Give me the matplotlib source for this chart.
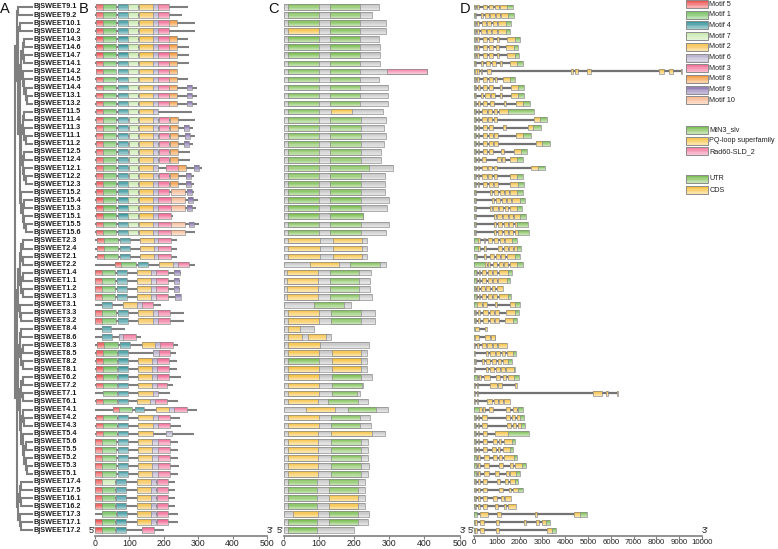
import numpy as np
import matplotlib
matplotlib.use('Agg')
import matplotlib.pyplot as plt
import matplotlib.colors as mcolors
import matplotlib.transforms as mtransforms
from matplotlib.patches import Rectangle

plt.rcParams['font.family'] = ['Liberation Sans', 'DejaVu Sans']

# ---------------- data ----------------
gene_ids = ['9.1', '9.2', '10.1', '10.2', '14.3', '14.6', '14.7', '14.1', '14.2', '14.5',
            '14.4', '13.1', '13.2', '11.5', '11.4', '11.3', '11.1', '11.2', '12.5', '12.4',
            '12.1', '12.2', '12.3', '15.2', '15.4', '15.3', '15.1', '15.5', '15.6', '2.3',
            '2.4', '2.1', '2.2', '1.4', '1.1', '1.2', '1.3', '3.1', '3.3', '3.2',
            '8.4', '8.6', '8.3', '8.5', '8.2', '8.1', '6.2', '7.2', '7.1', '6.1',
            '4.1', '4.2', '4.3', '5.4', '5.6', '5.5', '5.2', '5.3', '5.1', '17.4',
            '17.5', '16.1', '16.2', '17.3', '17.1', '17.2']

# protein length (aa)
prot_len = [271, 252, 291, 291, 271, 274, 274, 274, 408, 271,
            296, 296, 296, 282, 291, 286, 291, 286, 277, 277,
            310, 288, 288, 289, 300, 295, 226, 301, 292, 237,
            237, 237, 291, 249, 247, 247, 250, 192, 260, 260,
            86, 134, 242, 236, 238, 238, 250, 227, 218, 240,
            297, 246, 249, 287, 241, 241, 241, 243, 241, 232,
            232, 232, 232, 242, 241, 200]
no_backbone = ['14.2']

# tree topology (panel A)
tree = [
    [['9.1', '9.2'],
     [['10.1', '10.2'],
      [[[['14.3', '14.6'], ['14.7', '14.1']], ['14.2', ['14.5', ['14.4', ['13.1', '13.2']]]]],
       [[['11.5', '11.4'], ['11.3', ['11.1', '11.2']]], [['12.5', '12.4'], ['12.1', ['12.2', '12.3']]]],
       ['15.2', [['15.4', '15.3'], ['15.1', ['15.5', '15.6']]]]]]],
    [[[[['2.3', '2.4'], ['2.1', '2.2']], [['1.4', '1.1'], ['1.2', '1.3']]], ['3.1', ['3.3', '3.2']]],
     [[['8.4', '8.6'], [['8.3', '8.5'], ['8.2', '8.1']]],
      [[['6.2', '7.2'], ['7.1', '6.1']],
       [['4.1', ['4.2', '4.3']], ['5.4', [['5.6', '5.5'], ['5.2', ['5.3', '5.1']]]]]]],
     [[['17.4', '17.5'], ['16.1', '16.2']], ['17.3', ['17.1', '17.2']]]]]

# panel B motifs: (motif, start, end) in aa
motifs = [
    [(5, 3, 22), (1, 22, 62), (4, 68, 97), (7, 97, 126), (2, 129, 168), (6, 168, 184), (3, 184, 216)],
    [(5, 3, 22), (1, 22, 62), (4, 68, 97), (7, 97, 126), (2, 129, 168), (6, 168, 184), (3, 184, 216)],
    [(5, 3, 22), (1, 22, 62), (4, 68, 97), (7, 97, 126), (2, 129, 168), (6, 168, 184), (3, 184, 216), (8, 216, 239)],
    [(5, 3, 22), (1, 22, 62), (4, 68, 97), (7, 97, 126), (2, 129, 168), (6, 168, 184), (3, 184, 216)],
    [(5, 3, 22), (1, 22, 62), (4, 68, 97), (7, 97, 126), (2, 129, 168), (6, 168, 184), (3, 184, 216), (8, 216, 239)],
    [(5, 3, 22), (1, 22, 62), (4, 68, 97), (7, 97, 126), (2, 129, 168), (6, 168, 184), (3, 184, 216), (8, 216, 239)],
    [(5, 3, 22), (1, 22, 62), (4, 68, 97), (7, 97, 126), (2, 129, 168), (6, 168, 184), (3, 184, 216), (8, 216, 239)],
    [(5, 3, 22), (1, 22, 62), (4, 68, 97), (7, 97, 126), (2, 129, 168), (6, 168, 184), (3, 184, 216), (8, 216, 239)],
    [(5, 3, 22), (1, 22, 62), (4, 68, 97), (7, 97, 126), (2, 129, 168), (6, 168, 184), (3, 184, 216), (8, 216, 239)],
    [(5, 3, 22), (1, 22, 62), (4, 68, 97), (7, 97, 126), (2, 129, 168), (6, 168, 184), (3, 184, 216), (8, 216, 239)],
    [(5, 3, 22), (1, 22, 62), (4, 68, 97), (7, 97, 126), (2, 129, 168), (6, 168, 184), (3, 184, 216), (8, 216, 239), (9, 268, 282)],
    [(5, 3, 22), (1, 22, 62), (4, 68, 97), (7, 97, 126), (2, 129, 168), (6, 168, 184), (3, 184, 216), (8, 216, 239), (9, 268, 282)],
    [(5, 3, 22), (1, 22, 62), (4, 68, 97), (7, 97, 126), (2, 129, 168), (6, 168, 184), (3, 184, 216), (8, 216, 239), (9, 268, 282)],
    [(5, 3, 22), (1, 22, 62), (4, 68, 97), (7, 97, 126), (2, 129, 168), (6, 168, 184)],
    [(5, 3, 22), (1, 22, 62), (4, 68, 97), (7, 99, 126), (2, 129, 168), (6, 168, 184), (3, 185, 216), (8, 218, 240)],
    [(5, 3, 22), (1, 22, 62), (4, 68, 97), (7, 99, 126), (2, 129, 168), (6, 168, 184), (3, 185, 216), (8, 218, 240), (9, 259, 274)],
    [(5, 3, 22), (1, 22, 62), (4, 68, 97), (7, 99, 126), (2, 129, 168), (6, 168, 184), (3, 185, 216), (8, 218, 240), (9, 262, 276)],
    [(5, 3, 22), (1, 22, 62), (4, 68, 97), (7, 99, 126), (2, 129, 168), (6, 168, 184), (3, 185, 216), (8, 218, 240), (9, 259, 273)],
    [(5, 3, 22), (1, 22, 62), (4, 68, 97), (7, 99, 126), (2, 129, 168), (6, 168, 184), (3, 185, 216), (8, 218, 240)],
    [(5, 3, 22), (1, 22, 62), (4, 68, 97), (7, 99, 126), (2, 129, 168), (6, 168, 184), (3, 185, 216), (8, 218, 240)],
    [(5, 3, 22), (1, 22, 62), (4, 68, 97), (7, 99, 126), (2, 129, 168), (6, 168, 182), (3, 206, 242), (8, 242, 264), (9, 288, 303)],
    [(5, 3, 22), (1, 22, 62), (4, 68, 97), (7, 99, 126), (2, 129, 168), (6, 168, 184), (3, 185, 216), (8, 218, 240), (9, 264, 278)],
    [(5, 3, 22), (1, 22, 62), (4, 68, 97), (7, 97, 126), (2, 129, 168), (6, 168, 184), (3, 184, 216), (8, 217, 240), (9, 264, 278)],
    [(5, 3, 22), (1, 22, 62), (4, 68, 97), (7, 97, 126), (2, 129, 168), (6, 168, 184), (3, 184, 216), (10, 220, 262), (9, 266, 281)],
    [(5, 3, 22), (1, 22, 62), (4, 68, 97), (7, 97, 126), (2, 129, 168), (6, 168, 184), (3, 184, 220), (10, 222, 262), (9, 270, 285)],
    [(5, 3, 22), (1, 22, 62), (4, 68, 97), (7, 97, 126), (2, 129, 168), (6, 168, 184), (3, 184, 220), (10, 222, 262), (9, 268, 283)],
    [(5, 3, 22), (1, 22, 62), (4, 68, 97), (7, 97, 126), (2, 129, 168), (6, 168, 184), (3, 184, 220)],
    [(5, 3, 22), (1, 22, 62), (4, 68, 97), (7, 97, 126), (2, 129, 168), (6, 168, 184), (3, 184, 220), (10, 222, 263), (9, 272, 287)],
    [(5, 3, 22), (1, 22, 62), (4, 68, 97), (7, 97, 126), (2, 129, 168), (6, 168, 184), (3, 184, 220), (10, 222, 263)],
    [(5, 7, 27), (1, 27, 66), (4, 73, 102), (2, 131, 171), (6, 171, 184), (3, 184, 221)],
    [(5, 7, 27), (1, 27, 66), (4, 73, 102), (2, 131, 171), (6, 171, 184), (3, 184, 221)],
    [(5, 7, 27), (1, 27, 66), (4, 73, 102), (2, 131, 171), (6, 171, 184), (3, 184, 221)],
    [(5, 58, 77), (1, 77, 118), (4, 126, 155), (2, 187, 226), (6, 226, 240), (3, 240, 274)],
    [(5, 1, 20), (1, 20, 59), (4, 63, 92), (2, 121, 162), (6, 162, 177), (3, 177, 213), (9, 230, 247)],
    [(5, 1, 20), (1, 20, 59), (4, 63, 92), (2, 121, 162), (6, 162, 177), (3, 177, 213), (9, 230, 245)],
    [(5, 1, 20), (1, 20, 59), (4, 63, 92), (2, 121, 162), (6, 162, 177), (3, 177, 213), (9, 230, 245)],
    [(5, 1, 20), (1, 20, 59), (4, 63, 92), (2, 121, 162), (6, 162, 177), (3, 177, 213), (9, 232, 249)],
    [(4, 19, 48), (2, 80, 121), (6, 121, 136), (3, 136, 170)],
    [(5, 1, 20), (1, 20, 62), (4, 68, 97), (2, 126, 168), (6, 168, 182), (3, 182, 218)],
    [(5, 1, 20), (1, 20, 62), (4, 68, 97), (2, 126, 168), (6, 168, 182), (3, 182, 218)],
    [(4, 19, 46)],
    [(4, 19, 48), (6, 71, 82), (3, 82, 118)],
    [(5, 5, 25), (1, 25, 68), (4, 72, 101), (2, 136, 174), (6, 174, 189), (3, 189, 226)],
    [(5, 2, 22), (1, 22, 63), (4, 67, 95), (6, 170, 187), (3, 187, 219)],
    [(5, 2, 22), (1, 22, 63), (4, 67, 95), (2, 126, 165), (6, 165, 180), (3, 180, 215)],
    [(5, 2, 22), (1, 22, 63), (4, 67, 95), (2, 126, 165), (6, 165, 180), (3, 180, 215)],
    [(5, 2, 22), (1, 22, 63), (4, 67, 95), (2, 126, 165), (6, 165, 180), (3, 180, 215)],
    [(5, 2, 22), (1, 22, 65), (4, 68, 95), (2, 126, 165), (6, 165, 180), (3, 180, 210)],
    [(1, 22, 63), (4, 68, 97), (2, 126, 169), (6, 169, 184)],
    [(5, 2, 22), (1, 22, 63), (4, 68, 97), (2, 121, 160), (6, 160, 174), (3, 174, 210)],
    [(5, 51, 71), (1, 71, 109), (4, 116, 143), (2, 177, 216), (6, 216, 231), (3, 231, 267)],
    [(5, 2, 22), (1, 22, 63), (4, 68, 97), (2, 126, 168), (6, 168, 182), (3, 182, 218)],
    [(5, 2, 22), (1, 22, 63), (4, 68, 97), (2, 126, 168), (6, 168, 182), (3, 182, 218)],
    [(5, 2, 22), (1, 22, 63), (4, 68, 95), (2, 126, 168), (6, 206, 223)],
    [(5, 0, 19), (1, 19, 61), (4, 68, 95), (2, 126, 167), (6, 167, 182), (3, 182, 218)],
    [(5, 0, 19), (1, 19, 61), (4, 68, 95), (2, 126, 167), (6, 167, 182), (3, 182, 218)],
    [(5, 0, 19), (1, 19, 61), (4, 68, 95), (2, 126, 167), (6, 167, 182), (3, 182, 218)],
    [(5, 0, 19), (1, 19, 61), (4, 68, 95), (2, 126, 167), (6, 167, 182), (3, 182, 218)],
    [(5, 0, 19), (1, 19, 61), (4, 68, 95), (2, 126, 167), (6, 167, 182), (3, 182, 218)],
    [(5, 0, 20), (7, 20, 59), (4, 61, 90), (2, 121, 162), (6, 164, 178), (3, 179, 213)],
    [(5, 0, 20), (1, 20, 59), (4, 61, 90), (2, 121, 162), (6, 164, 178), (3, 179, 213)],
    [(5, 0, 20), (1, 20, 59), (4, 61, 90), (2, 121, 162), (6, 164, 178), (3, 179, 213)],
    [(5, 0, 20), (1, 20, 59), (4, 61, 90), (2, 121, 162), (6, 164, 178), (3, 179, 213)],
    [(1, 19, 61), (4, 63, 92), (2, 121, 162), (6, 164, 178), (3, 179, 213)],
    [(5, 0, 20), (1, 20, 59), (4, 61, 90), (2, 121, 162), (6, 164, 178), (3, 179, 213)],
    [(5, 0, 20), (1, 20, 59), (4, 61, 90), (3, 138, 172)],
]

# panel C domains: (domain, start, end) in aa
domains = [
    [('M', 13, 100), ('M', 133, 217)], [('M', 13, 100), ('M', 133, 217)],
    [('M', 13, 100), ('M', 133, 217)], [('P', 13, 100), ('M', 133, 217)],
    [('M', 13, 100), ('M', 133, 217)], [('M', 13, 100), ('M', 133, 217)],
    [('M', 13, 100), ('M', 133, 217)], [('M', 13, 100), ('M', 133, 217)],
    [('M', 13, 100), ('M', 133, 217), ('R', 295, 408)], [('M', 13, 100), ('M', 133, 217)],
    [('M', 13, 100), ('M', 133, 217)], [('M', 13, 100), ('M', 133, 217)],
    [('M', 13, 100), ('M', 133, 217)], [('M', 13, 100), ('P', 135, 195)],
    [('M', 13, 100), ('M', 133, 221)], [('M', 13, 100), ('M', 133, 221)],
    [('M', 13, 100), ('M', 133, 221)], [('M', 13, 100), ('M', 133, 221)],
    [('M', 13, 100), ('M', 133, 221)], [('M', 13, 100), ('M', 133, 221)],
    [('M', 13, 100), ('M', 133, 242)], [('M', 13, 100), ('M', 133, 221)],
    [('M', 13, 100), ('M', 133, 221)], [('M', 13, 100), ('M', 133, 221)],
    [('M', 13, 100), ('M', 133, 221)], [('M', 13, 100), ('M', 133, 221)],
    [('M', 13, 100), ('M', 133, 225)], [('M', 13, 100), ('M', 133, 221)],
    [('M', 13, 100), ('M', 133, 221)], [('P', 13, 105), ('P', 140, 222)],
    [('P', 13, 105), ('P', 140, 222)], [('P', 13, 105), ('P', 140, 222)],
    [('P', 75, 157), ('M', 190, 274)], [('P', 10, 97), ('M', 131, 214)],
    [('P', 10, 97), ('M', 131, 214)], [('P', 10, 97), ('M', 131, 214)],
    [('P', 10, 97), ('M', 131, 214)], [('M', 88, 171)],
    [('P', 13, 102), ('M', 135, 221)], [('P', 13, 102), ('M', 135, 221)],
    [('P', 13, 48)], [('P', 13, 53), ('P', 69, 122)],
    [('P', 13, 103)], [('P', 13, 102), ('P', 137, 221)],
    [('M', 13, 102), ('P', 137, 219)], [('P', 13, 102), ('P', 137, 219)],
    [('P', 13, 102), ('M', 137, 221)], [('P', 13, 102), ('M', 137, 223)],
    [('P', 13, 102), ('M', 137, 210)], [('P', 13, 97), ('M', 126, 211)],
    [('P', 65, 146), ('M', 183, 264)], [('P', 13, 102), ('M', 135, 217)],
    [('P', 13, 102), ('M', 135, 217)], [('P', 13, 97), ('P', 135, 252)],
    [('P', 13, 97), ('M', 135, 219)], [('P', 13, 97), ('M', 135, 219)],
    [('P', 13, 97), ('M', 135, 219)], [('P', 13, 97), ('M', 135, 219)],
    [('P', 13, 97), ('M', 135, 219)], [('M', 13, 94), ('M', 130, 213)],
    [('M', 13, 94), ('M', 130, 213)], [('M', 13, 94), ('P', 130, 213)],
    [('M', 13, 94), ('P', 130, 213)], [('P', 28, 97), ('M', 130, 213)],
    [('M', 13, 94), ('M', 130, 213)], [('M', 13, 94)],
]

# panel D exons (bp) and coding range
exons = [
    [(0, 90), (130, 210), (400, 590), (650, 830), (900, 1080), (1140, 1694)],
    [(0, 80), (300, 390), (470, 650), (720, 900), (960, 1140), (1200, 1752)],
    [(0, 90), (150, 230), (330, 520), (580, 760), (820, 1000), (1060, 1606)],
    [(0, 90), (140, 220), (320, 510), (570, 750), (810, 990), (1050, 1577)],
    [(0, 90), (150, 230), (380, 570), (650, 830), (1000, 1100), (1460, 2015)],
    [(0, 90), (150, 230), (380, 570), (640, 820), (980, 1080), (1400, 1942)],
    [(0, 90), (150, 230), (380, 570), (640, 820), (1000, 1100), (1440, 1986)],
    [(0, 90), (300, 380), (520, 710), (780, 960), (1130, 1230), (1580, 2132)],
    [(0, 110), (150, 230), (290, 340), (590, 740), (4240, 4360), (4440, 4580), (4960, 5130),
     (8100, 8330), (8570, 8740), (9080, 9140)],
    [(0, 90), (150, 230), (380, 570), (640, 820), (900, 1000), (1250, 1796)],
    [(0, 90), (170, 250), (400, 590), (670, 850), (1130, 1230), (1620, 2190)],
    [(0, 90), (300, 380), (500, 690), (760, 940), (1130, 1230), (1620, 2190)],
    [(0, 90), (180, 260), (400, 590), (680, 860), (1300, 1400), (1850, 2453)],
    [(0, 90), (160, 240), (360, 550), (620, 800), (860, 1020), (1100, 2628)],
    [(0, 90), (160, 240), (360, 550), (620, 800), (860, 1020), (2620, 3212)],
    [(0, 90), (160, 240), (380, 570), (640, 820), (1280, 1400), (2350, 2935)],
    [(0, 90), (160, 240), (380, 570), (640, 820), (880, 1040), (1860, 2482)],
    [(0, 90), (160, 240), (380, 570), (640, 820), (880, 1040), (2720, 3329)],
    [(0, 90), (160, 240), (400, 590), (660, 840), (1180, 1300), (1750, 2307)],
    [(0, 90), (160, 240), (330, 520), (1000, 1180), (1240, 1360), (1580, 2132)],
    [(0, 90), (160, 240), (360, 550), (620, 800), (860, 1000), (2480, 3110)],
    [(0, 90), (160, 240), (360, 550), (620, 800), (860, 1000), (1600, 2161)],
    [(0, 100), (160, 240), (380, 570), (640, 820), (880, 1040), (1600, 2193)],
    [(0, 90), (700, 780), (860, 1050), (1120, 1300), (1360, 1520), (1600, 2135)],
    [(0, 90), (800, 880), (950, 1140), (1210, 1390), (1450, 1610), (1680, 2222)],
    [(0, 90), (700, 780), (850, 1040), (1110, 1290), (1350, 1510), (1570, 2091)],
    [(0, 90), (880, 960), (1030, 1220), (1290, 1470), (1530, 1690), (1750, 2281)],
    [(0, 90), (880, 960), (1040, 1230), (1300, 1480), (1540, 1700), (1780, 2383)],
    [(0, 90), (880, 960), (1040, 1230), (1300, 1480), (1540, 1700), (1780, 2427)],
    [(0, 280), (420, 500), (620, 810), (880, 1060), (1120, 1300), (1360, 1900)],
    [(0, 250), (440, 520), (1040, 1230), (1300, 1480), (1540, 1700), (1760, 2061)],
    [(0, 150), (450, 530), (700, 890), (960, 1140), (1200, 1360), (1440, 2018)],
    [(0, 560), (620, 700), (820, 1010), (1080, 1260), (1320, 1480), (1560, 2164)],
    [(0, 140), (200, 280), (350, 540), (610, 790), (850, 1010), (1080, 1652)],
    [(0, 140), (200, 280), (350, 540), (600, 780), (840, 1000), (1060, 1579)],
    [(0, 90), (130, 210), (290, 480), (540, 720), (780, 940), (1000, 1287)],
    [(0, 140), (200, 280), (350, 540), (610, 790), (850, 1010), (1080, 1623)],
    [(0, 336), (380, 555), (920, 1020), (1580, 2018)],
    [(0, 100), (180, 270), (400, 600), (680, 860), (930, 1090), (1420, 1988)],
    [(0, 100), (180, 270), (400, 600), (680, 860), (930, 1090), (1380, 1900)],
    [(0, 200), (480, 585)],
    [(0, 200), (500, 700), (760, 921)],
    [(0, 60), (150, 230), (330, 520), (590, 770), (840, 1000), (1060, 1433)],
    [(0, 60), (540, 620), (720, 910), (980, 1160), (1220, 1380), (1440, 1842)],
    [(0, 90), (350, 430), (530, 720), (790, 970), (1040, 1200), (1260, 1652)],
    [(0, 60), (520, 600), (700, 890), (960, 1140), (1200, 1360), (1420, 1798)],
    [(0, 180), (230, 320), (450, 700), (980, 1150), (1250, 1400), (1500, 1988)],
    [(0, 60), (110, 170), (700, 1000), (1070, 1220), (1820, 1900)],
    [(0, 60), (120, 180), (5230, 5600), (5790, 5890), (6250, 6330)],
    [(0, 60), (110, 170), (580, 800), (870, 1050), (1110, 1270), (1320, 1579)],
    [(0, 340), (410, 490), (670, 850), (1400, 1580), (1720, 1870), (1940, 2164)],
    [(0, 90), (160, 240), (350, 580), (1400, 1580), (1660, 1820), (1880, 2193)],
    [(0, 90), (160, 240), (350, 580), (1440, 1620), (1700, 1860), (1920, 2237)],
    [(0, 90), (160, 240), (380, 560), (910, 2427)],
    [(0, 90), (160, 240), (380, 570), (830, 1010), (1080, 1200), (1300, 1798)],
    [(0, 90), (160, 240), (380, 570), (790, 970), (1040, 1160), (1250, 1725)],
    [(0, 140), (190, 270), (460, 650), (820, 1000), (1100, 1230), (1330, 1900)],
    [(0, 140), (190, 270), (460, 650), (1100, 1280), (1600, 1730), (1800, 2281)],
    [(0, 140), (190, 270), (460, 650), (900, 1080), (1400, 1530), (1600, 2018)],
    [(0, 90), (170, 250), (380, 570), (1000, 1160), (1380, 1500), (1560, 1944)],
    [(0, 90), (170, 250), (380, 570), (1100, 1260), (1520, 1640), (1700, 2135)],
    [(0, 90), (170, 250), (380, 570), (850, 1010), (1180, 1300), (1380, 1608)],
    [(0, 90), (170, 250), (380, 570), (900, 1060), (1300, 1420), (1500, 1842)],
    [(0, 117), (263, 628), (994, 1170), (2675, 2778), (4386, 4970)],
    [(0, 110), (250, 420), (950, 1080), (2200, 2300), (2700, 2850), (3000, 3350)],
    [(0, 110), (250, 420), (950, 1080), (3200, 3600)],
]
cds = [(45, 1450), (40, 1480), (50, 1420), (50, 1420), (50, 1800), (50, 1750), (50, 1780),
       (50, 1900), (50, 9140), (50, 1600), (50, 1950), (50, 1950), (50, 2150), (50, 1500),
       (50, 2880), (50, 2600), (50, 2150), (50, 3000), (50, 2050), (50, 1900), (50, 2800),
       (50, 1900), (60, 1950), (60, 1900), (60, 2000), (60, 1880), (60, 2000), (60, 1900),
       (60, 1950), (180, 1650), (170, 1900), (90, 1800), (500, 1900), (80, 1500), (80, 1450),
       (40, 1287), (80, 1500), (120, 1800), (60, 1800), (60, 1700), (40, 585), (40, 900),
       (0, 1433), (0, 1700), (30, 1500), (0, 1750), (110, 1750), (0, 1900), (0, 6330),
       (0, 1579), (240, 1950), (50, 2000), (50, 2050), (50, 1500), (50, 1650), (50, 1600),
       (80, 1750), (80, 2100), (80, 1850), (50, 1800), (50, 1950), (50, 1608), (50, 1842),
       (120, 4650), (60, 3150), (60, 3400)]

motif_order = [5, 1, 4, 7, 2, 6, 3, 8, 9, 10]
motif_colors = {5: '#ee5555', 1: '#74c060', 4: '#3f9aa0', 7: '#c8e9ae', 2: '#f5c04a',
                6: '#b6adcb', 3: '#f27099', 8: '#f39c45', 9: '#8470ae', 10: '#f7bb95'}
domain_names = {'M': 'MtN3_slv', 'P': 'PQ-loop superfamily', 'R': 'Rad60-SLD_2'}
domain_colors = {'M': '#80c058', 'P': '#f6c244', 'R': '#f285a7'}
utr_color, cds_color = '#80c058', '#f6c244'

# ---------------- drawing ----------------
W, H = 778, 549
fig = plt.figure(figsize=(W / 100, H / 100), dpi=100)

ROW0, DY, AXIS_Y = 7, 8.05, 536
YLIM = ((AXIS_Y - ROW0) / DY, -ROW0 / DY)
GRAY = '#7f7f7f'
EDGE = '#8c8c8c'
FADE = [0, 0.12, 0.26, 0.4, 0.52]


def px_axes(x0, x1, y0, y1):
    return fig.add_axes([x0 / W, 1 - y1 / H, (x1 - x0) / W, (y1 - y0) / H])


def grad_box(ax, x0, x1, yc, h, color, lw=0.5):
    rgb = np.array(mcolors.to_rgb(color))
    top = yc - h / 2
    for k, t in enumerate(FADE):
        y = top + k * h / len(FADE)
        ax.add_patch(Rectangle((x0, y), x1 - x0, top + h - y, facecolor=rgb * (1 - t) + t,
                               edgecolor='none', lw=0, zorder=3))
    ax.add_patch(Rectangle((x0, top), x1 - x0, h, facecolor='none', edgecolor=EDGE, lw=lw, zorder=3))


def ruler(ax, xmax, step, fs):
    ax.set_xlim(0, xmax)
    ax.set_ylim(*YLIM)
    ax.patch.set_alpha(0)
    for s in ['top', 'right', 'left']:
        ax.spines[s].set_visible(False)
    ax.spines['bottom'].set_color(GRAY)
    ax.spines['bottom'].set_linewidth(1.2)
    ax.set_yticks([])
    ax.set_xticks(np.arange(0, xmax + 1, step))
    ax.tick_params(axis='x', length=2.5, width=0.8, color=GRAY, pad=0,
                   labelsize=fs, labelcolor='#222222')
    tr = mtransforms.blended_transform_factory(ax.transData, ax.transAxes)
    ax.text(0, 0.002, "5'", transform=tr, ha='right', va='bottom', fontsize=6.5, color='#222222')
    ax.text(xmax, 0.002, "3'", transform=tr, ha='left', va='bottom', fontsize=6.5, color='#222222')


row_of = {g: i for i, g in enumerate(gene_ids)}

# A: tree
axA = px_axes(0, 95, 0, AXIS_Y)
axA.set_xlim(0, 95)
axA.set_ylim(*YLIM)
axA.axis('off')
TIP, ROOT_X, STEP = 33, 15, 1.5


def draw_node(node, depth):
    if isinstance(node, str):
        return row_of[node], TIP
    xn = ROOT_X + depth * STEP
    ys = []
    for ch in node:
        yc, xc = draw_node(ch, depth + 1)
        axA.plot([xn, xc], [yc, yc], color=GRAY, lw=1.5, solid_capstyle='butt')
        ys.append(yc)
    axA.plot([xn, xn], [min(ys), max(ys)], color=GRAY, lw=1.5, solid_capstyle='projecting')
    return (min(ys) + max(ys)) / 2, xn


draw_node(tree, 0)
for i, g in enumerate(gene_ids):
    axA.text(TIP + 0.8, i, 'BjSWEET' + g, fontsize=5.2, fontweight='bold',
             va='center', ha='left', color='#1a1a1a')

# B: motifs
axB = px_axes(95, 267, 0, AXIS_Y)
ruler(axB, 500, 100, 6.3)
for i, g in enumerate(gene_ids):
    if g not in no_backbone:
        axB.plot([0, prot_len[i]], [i, i], color=GRAY, lw=1.5, solid_capstyle='butt',
                 clip_on=False, zorder=2)
    for m, s, e in motifs[i]:
        grad_box(axB, s, e, i, 0.7, motif_colors[m])

# C: conserved domains
axC = px_axes(283.5, 459.5, 0, AXIS_Y)
ruler(axC, 500, 100, 6.3)
for i, g in enumerate(gene_ids):
    grad_box(axC, 0, prot_len[i], i, 0.7, '#c4c4c4')
    for d, s, e in domains[i]:
        grad_box(axC, s, e, i, 0.7, domain_colors[d])

# D: gene structure
axD = px_axes(474, 702, 0, AXIS_Y)
ruler(axD, 10000, 1000, 5.7)
for i, g in enumerate(gene_ids):
    ex = exons[i]
    axD.plot([ex[0][0], ex[-1][1]], [i, i], color='#737373', lw=1.6, solid_capstyle='butt', zorder=2)
    c0, c1 = cds[i]
    for s, e in ex:
        pieces = [(s, min(e, c0), utr_color), (max(s, c0), min(e, c1), cds_color),
                  (max(s, c1), e, utr_color)]
        for ps, pe, col in pieces:
            if pe > ps:
                grad_box(axD, ps, pe, i, 0.62, col)

# legend
axL = px_axes(680, 778, 0, 200)
axL.set_xlim(680, 778)
axL.set_ylim(200, 0)
axL.axis('off')
entries = [('Motif %d' % m, motif_colors[m], 4 + 10.7 * k) for k, m in enumerate(motif_order)]
entries += [(domain_names[d], domain_colors[d], 130 + 10.7 * k) for k, d in enumerate(['M', 'P', 'R'])]
entries += [('UTR', utr_color, 179), ('CDS', cds_color, 190)]
for label, col, yc in entries:
    grad_box(axL, 686, 708, yc, 8, col, lw=0.7)
    axL.text(709.5, yc, label, fontsize=5.2, va='center', ha='left', color='#222222')

# panel letters
for letter, xp in [('A', 0), ('B', 79), ('C', 268), ('D', 460)]:
    fig.text(xp / W, 1 - 2 / H, letter, fontsize=10.5, va='top', ha='left', color='#111111')

fig.savefig('out.png', dpi=100)
